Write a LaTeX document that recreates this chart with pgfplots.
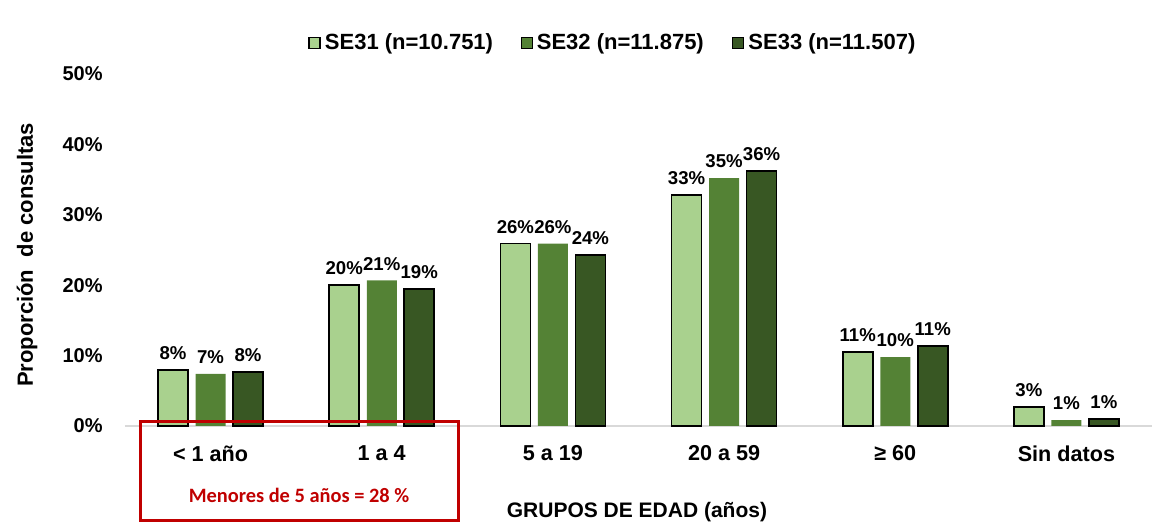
\documentclass[border=0pt]{standalone}
\usepackage{fontspec}
\setmainfont{Liberation Sans}
\newfontfamily\carlito{Carlito}
\usepackage{pgfplots}
\pgfplotsset{compat=1.18}
\definecolor{cA}{HTML}{A9D18E}
\definecolor{cB}{HTML}{548235}
\definecolor{cC}{HTML}{385723}
\definecolor{redbox}{HTML}{C00000}
\definecolor{axgray}{HTML}{D9D9D9}
\begin{document}
\begin{tikzpicture}
\useasboundingbox (0,0) rectangle (585pt,261.5pt);
\begin{axis}[
  at={(62.5pt,48.5pt)}, anchor=south west,
  scale only axis, width=513.5pt, height=176pt,
  ybar=3.75pt, bar width=15pt,
  xmin=-0.5, xmax=5.5, ymin=0, ymax=50,
  clip=false,
  /pgf/number format/assume math mode=true,
  separate axis lines,
  axis x line*=bottom, axis y line*=left,
  x axis line style={draw=axgray, line width=1pt, -},
  y axis line style={draw=none},
  xtick style={draw=none}, ytick style={draw=none},
  xtick={0,1,2,3,4,5},
  xticklabels={{< 1 año},{1 a 4},{5 a 19},{20 a 59},{≥ 60},{Sin datos}},
  xticklabel style={anchor=center, yshift=-9.5pt, font=\fontsize{10.8}{12}\selectfont\bfseries},
  ytick={0,10,20,30,40,50},
  yticklabel={\pgfmathprintnumber{\tick}\%},
  yticklabel style={anchor=east, inner sep=0pt, xshift=-11pt, font=\fontsize{10}{12}\selectfont\bfseries},
  xlabel={GRUPOS DE EDAD (años)},
  xlabel style={at={(axis description cs:0.4985,-0.244)}, anchor=center, font=\fontsize{10.5}{12}\selectfont\bfseries},
  ylabel={Proporción\ \ de consultas},
  ylabel style={at={(axis description cs:-0.0954,0.486)}, anchor=center, rotate=0, font=\fontsize{11}{12}\selectfont\bfseries},
  nodes near coords={\pgfmathprintnumber[fixed,precision=0]{\pgfplotspointmeta}\%},
  every node near coord/.append style={text=black, yshift=1.5pt, font=\fontsize{9.3}{11}\selectfont\bfseries},
  legend style={at={(axis description cs:0.476,1.088)}, anchor=center, draw=none, fill=none,
    font=\fontsize{11}{12}\selectfont\bfseries, legend columns=3,
    /tikz/every even column/.append style={column sep=12pt}},
  legend image code/.code={\draw[#1] (0pt,-2.75pt) rectangle (5.5pt,2.75pt);},
]
\addplot[fill=cA, draw=black, line width=0.8pt] coordinates {(0,7.95) (1,20.0) (2,25.9) (3,32.8) (4,10.55) (5,2.7)};
\addplot[fill=cB, draw=none] coordinates {(0,7.4) (1,20.7) (2,25.9) (3,35.2) (4,9.8) (5,0.85)};
\addplot[fill=cC, draw=black, line width=0.8pt] coordinates {(0,7.7) (1,19.45) (2,24.3) (3,36.2) (4,11.4) (5,1.0)};
\legend{SE31 (n=10.751),SE32 (n=11.875),SE33 (n=11.507)}
\end{axis}
\draw[redbox, line width=1.5pt] (70pt,1pt) rectangle (229pt,50.5pt);
\node[text=redbox, font=\carlito\fontsize{10.2}{12}\selectfont\bfseries] at (149.5pt,14pt) {Menores de 5 años = 28~\%};
\end{tikzpicture}
\end{document}
